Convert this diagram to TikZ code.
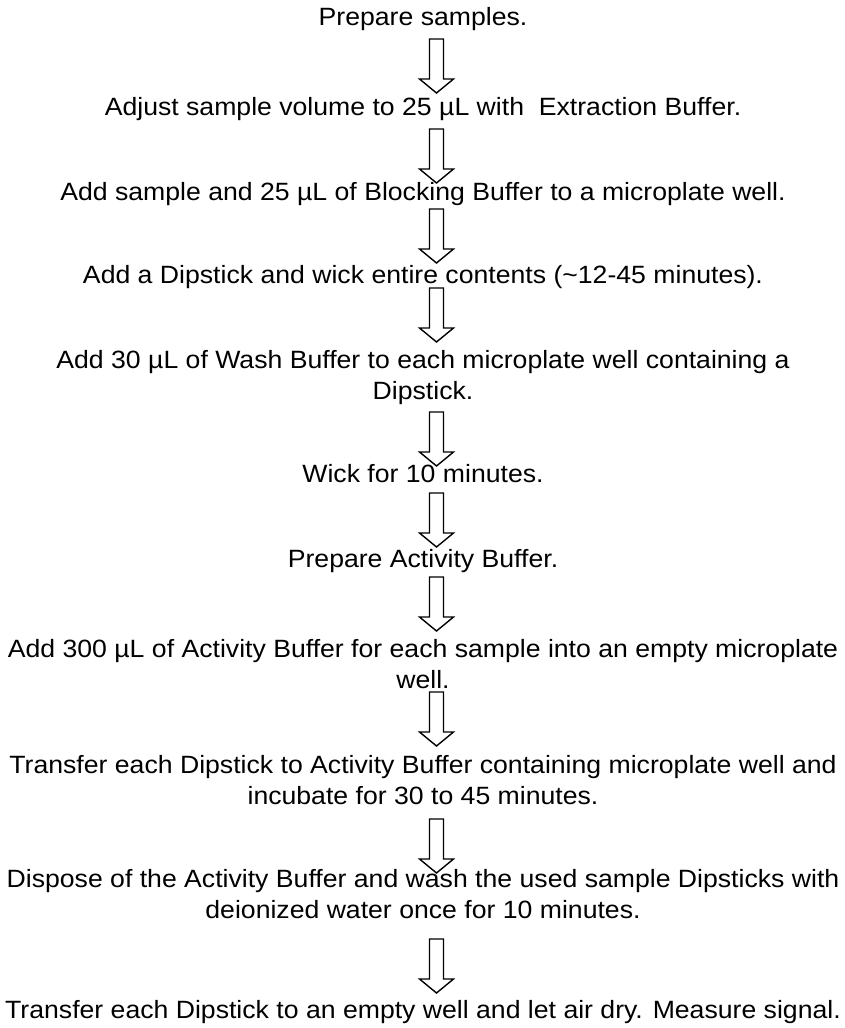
\documentclass[tikz,border=0pt]{standalone}
\usepackage{fontspec}
\setmainfont[FakeStretch=1.065]{Liberation Sans}
\begin{document}
\begin{tikzpicture}[x=1pt,y=1pt,
  steptext/.style={font=\fontsize{25}{31}\selectfont, align=center, anchor=base, inner sep=0pt},
  downarrow/.pic={\draw[line width=1.4pt, line join=miter]
     (-7,0) -- (-7,-40) -- (-17,-40) -- (0,-54) -- (17,-40) -- (7,-40) -- (7,0) -- cycle;}]
\useasboundingbox (0,0) rectangle (845,-1028);
\node[steptext] (s1) at (423,-25) {Prepare samples.};
\node[steptext] (s2) at (423,-115) {Adjust sample volume to 25 µL with~ Extraction Buffer.};
\node[steptext] (s3) at (423,-200) {Add sample and 25 µL of Blocking Buffer to a microplate well.};
\node[steptext] (s4) at (423,-283) {Add a Dipstick and wick entire contents (\textasciitilde12-45 minutes).};
\node[steptext] (s5) at (423,-399) {Add 30 µL of Wash Buffer to each microplate well containing a\\Dipstick.};
\node[steptext] (s6) at (423,-482) {Wick for 10 minutes.};
\node[steptext] (s7) at (423,-567) {Prepare Activity Buffer.};
\node[steptext] (s8) at (423,-688) {Add 300 µL of Activity Buffer for each sample into an empty microplate\\well.};
\node[steptext] (s9) at (423,-804) {Transfer each Dipstick to Activity Buffer containing microplate well and\\incubate for 30 to 45 minutes.};
\node[steptext] (s10) at (423,-918) {Dispose of the Activity Buffer and wash the used sample Dipsticks with\\deionized water once for 10 minutes.};
\node[steptext] (s11) at (423,-1018) {Transfer each Dipstick to an empty well and let air dry. Measure signal.};
\pic (a1) at (436.5,-39) {downarrow};
\pic (a2) at (436.5,-129) {downarrow};
\pic (a3) at (436.5,-209) {downarrow};
\pic (a4) at (436.5,-288) {downarrow};
\pic (a5) at (436.5,-412) {downarrow};
\pic (a6) at (436.5,-493) {downarrow};
\pic (a7) at (436.5,-577) {downarrow};
\pic (a8) at (436.5,-692) {downarrow};
\pic (a9) at (436.5,-819) {downarrow};
\pic (a10) at (436.5,-939) {downarrow};
\end{tikzpicture}
\end{document}
